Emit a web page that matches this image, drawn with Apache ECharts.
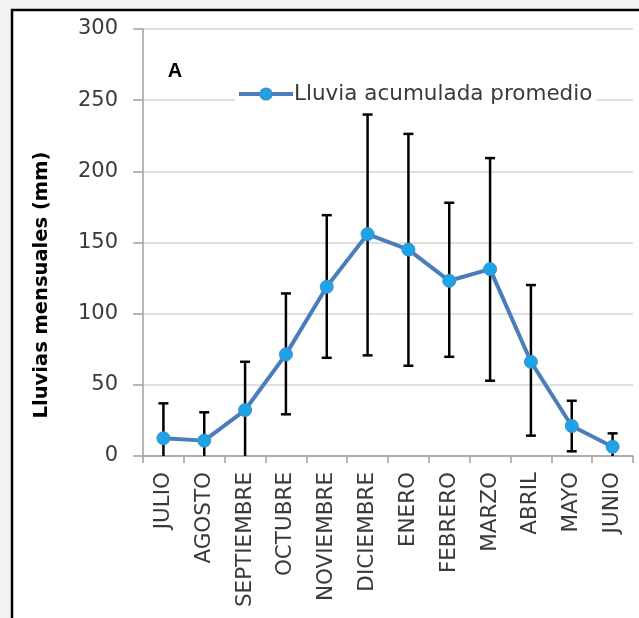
<!DOCTYPE html>
<html><head><meta charset="utf-8">
<script src="https://cdn.jsdelivr.net/npm/echarts@6/dist/echarts.min.js"></script>
<style>
html,body{margin:0;padding:0;background:#f3f3f3;}
#c{width:639px;height:618px;}
</style></head>
<body><div id="c"></div>
<script>
const categories = ['JULIO','AGOSTO','SEPTIEMBRE','OCTUBRE','NOVIEMBRE','DICIEMBRE','ENERO','FEBRERO','MARZO','ABRIL','MAYO','JUNIO'];
const lluvia = [12.5, 10.8, 32.3, 71.4, 118.9, 155.9, 145.0, 123.1, 131.3, 66.2, 21.1, 6.5];
const errUpper = [37, 30.7, 66.2, 114.2, 169.2, 239.9, 226.3, 177.9, 209.3, 120.1, 38.8, 15.9];
const errLower = [-12, -9, -2, 29.3, 69, 70.7, 63.4, 69.7, 52.9, 14.3, 3.3, -3];
const yTicks = [0, 50, 100, 150, 200, 250, 300];

const chart = echarts.init(document.getElementById('c'));
const errData = categories.map((c, i) => [i, errLower[i], errUpper[i]]);
const FONT = '"DejaVu Sans", sans-serif';

chart.setOption({
  backgroundColor: 'transparent',
  animation: false,
  graphic: [
    {type:'rect', z:-10, shape:{x:12, y:10, width:700, height:700}, style:{fill:'#ffffff', stroke:'#000000', lineWidth:2.5}},
    {type:'text', x:175, y:71, style:{text:'A', fontSize:20, fontWeight:'bold', fontFamily:'"Liberation Sans", Arial, sans-serif', fill:'#000', align:'center', verticalAlign:'middle'}},
    {type:'text', x:42, y:285, rotation:Math.PI/2, style:{text:'Lluvias mensuales (mm)', fontSize:19.5, fontWeight:'bold', fontFamily:FONT, fill:'#000', align:'center', verticalAlign:'middle'}}
  ],
  grid: {left:143, top:29, right:6, bottom:162, containLabel:false},
  legend: {
    left: 235, top: 81, itemWidth: 54, itemHeight: 14, itemGap: 4,
    backgroundColor: '#ffffff',
    padding: [2, 4, 2, 2],
    data: [{name:'Lluvia acumulada promedio'}],
    lineStyle: {width: 4},
    textStyle: {fontSize: 21.5, color: '#3a3a3a', fontFamily: FONT, padding:[0,0,0,-4]}
  },
  xAxis: {
    type: 'category', data: categories, boundaryGap: true,
    axisLine: {show:true, lineStyle:{color:'#a0a0a0', width:1.5}},
    axisTick: {show:true, interval:0, length:7, lineStyle:{color:'#a0a0a0', width:1.5}},
    axisLabel: {rotate:90, margin:16, fontSize:21.5, color:'#3a3a3a', fontFamily:FONT, interval:0},
    splitLine: {show:false}
  },
  yAxis: {
    type: 'value', min: 0, max: 300, interval: 50,
    axisLine: {show:true, lineStyle:{color:'#a0a0a0', width:1.5}},
    axisTick: {show:true, length:10, lineStyle:{color:'#a0a0a0', width:1.5}},
    axisLabel: {margin:25, fontSize:21, color:'#3a3a3a', fontFamily:FONT,
      formatter: v => yTicks.indexOf(v) >= 0 ? String(v) : ''},
    splitLine: {show:true, lineStyle:{color:'#d4d4d4', width:1.5}}
  },
  series: [
    {
      type: 'custom', name: 'err', z: 2, clip: true,
      data: errData,
      encode: {x: 0, y: [1, 2]},
      renderItem: function(params, api) {
        const x = api.value(0);
        const lo = api.coord([x, api.value(1)]);
        const hi = api.coord([x, api.value(2)]);
        const hw = 5;
        const st = {stroke:'#000', lineWidth:2.5};
        return {type:'group', children:[
          {type:'line', shape:{x1:lo[0], y1:lo[1], x2:hi[0], y2:hi[1]}, style:st},
          {type:'line', shape:{x1:hi[0]-hw, y1:hi[1], x2:hi[0]+hw, y2:hi[1]}, style:st},
          {type:'line', shape:{x1:lo[0]-hw, y1:lo[1], x2:lo[0]+hw, y2:lo[1]}, style:st}
        ]};
      }
    },
    {
      type: 'line', name: 'Lluvia acumulada promedio', z: 5,
      data: lluvia,
      symbol: 'circle', symbolSize: 13,
      lineStyle: {color:'#4a7ebb', width:4},
      itemStyle: {color:'#1ea3e6', borderColor:'#3d8fd0', borderWidth:1}
    }
  ]
});
</script>
</body></html>
